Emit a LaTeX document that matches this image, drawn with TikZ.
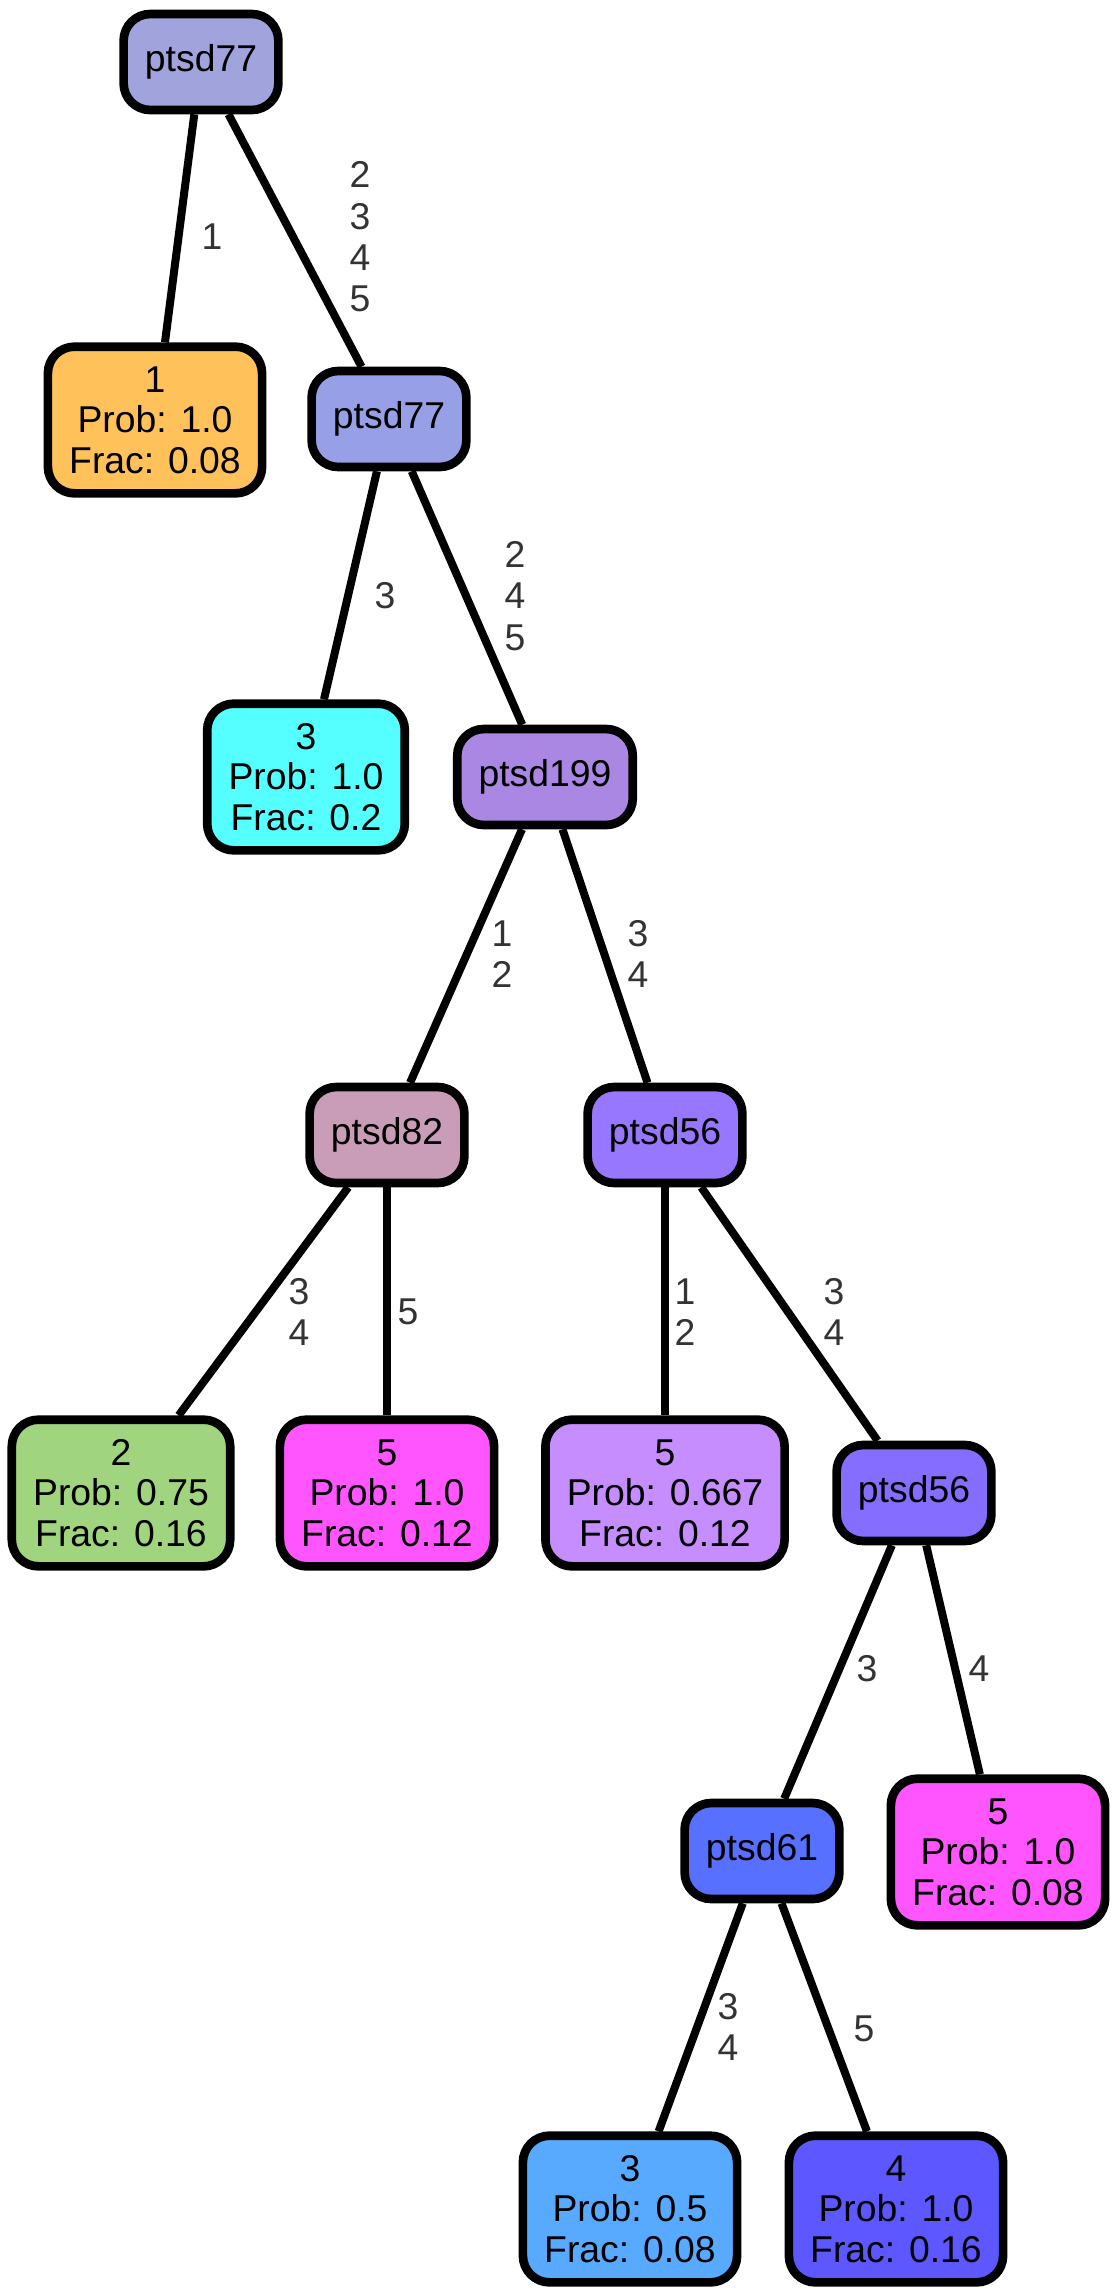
\documentclass[tikz,border=0pt]{standalone}
\usepackage{fontspec}
\setmainfont{Liberation Sans}
\usepackage{xcolor}

\definecolor{rootc}{HTML}{A0A3DC}
\definecolor{midc}{HTML}{979FE7}
\definecolor{orangec}{HTML}{FFC15A}
\definecolor{cyanc}{HTML}{55FFFF}
\definecolor{purplec}{HTML}{A987E2}
\definecolor{mauvec}{HTML}{C99CB7}
\definecolor{violetc}{HTML}{9877FF}
\definecolor{greenc}{HTML}{A1D47E}
\definecolor{magentac}{HTML}{FF55FF}
\definecolor{lilacc}{HTML}{C68DFF}
\definecolor{indigoc}{HTML}{856DFF}
\definecolor{bluec}{HTML}{5870FF}
\definecolor{skyc}{HTML}{57AAFF}
\definecolor{deepc}{HTML}{5C57FF}

\begin{document}
\begin{tikzpicture}[x=0.75pt,y=-0.75pt,
	decision/.style={draw, line width=6.5pt, rounded corners=20pt, inner xsep=16pt,
		minimum width=116pt, minimum height=72pt, align=center,
		font=\fontsize{28}{30.5}\selectfont},
	leafbox/.style={decision, minimum height=110pt},
	cut/.style={text=black!80, align=center, inner sep=0pt,
		font=\fontsize{28}{31}\selectfont},
	link/.style={line width=6pt}]
	
	\useasboundingbox (0,0) rectangle (1117,2296);
	
	\node[decision, fill=rootc](root) at (201,62){ptsd77};
	\node[leafbox, fill=orangec](c1) at (155,420){1\\Prob: 1.0\\Frac: 0.08};
	\node[decision, fill=midc](p77) at (389,419){ptsd77};
	
	\node[leafbox, fill=cyanc](c3) at (306,777){3\\Prob: 1.0\\Frac: 0.2};
	\node[decision, fill=purplec](p199) at (545,777){ptsd199};
	
	\node[decision, fill=mauvec](p82) at (387,1135){ptsd82};
	\node[decision, fill=violetc](p56) at (665,1135){ptsd56};
	
	\node[leafbox, fill=greenc](c2) at (121,1493){2\\Prob: 0.75\\Frac: 0.16};
	\node[leafbox, fill=magentac](c5a) at (387,1493){5\\Prob: 1.0\\Frac: 0.12};
	\node[leafbox, fill=lilacc](c5b) at (665,1493){5\\Prob: 0.667\\Frac: 0.12};
	\node[decision, fill=indigoc](p56b) at (914,1493){ptsd56};
	
	\node[decision, fill=bluec](p61) at (762,1851){ptsd61};
	\node[leafbox, fill=magentac](c5c) at (998,1852){5\\Prob: 1.0\\Frac: 0.08};
	
	\node[leafbox, fill=skyc](c3b) at (630,2209){3\\Prob: 0.5\\Frac: 0.08};
	\node[leafbox, fill=deepc](c4) at (896,2209){4\\Prob: 1.0\\Frac: 0.16};
	
	% edges
	\draw[link] (root) -- (c1);
	\draw[link] (root) -- (p77);
	\draw[link] (p77) -- (c3);
	\draw[link] (p77) -- (p199);
	\draw[link] (p199) -- (p82);
	\draw[link] (p199) -- (p56);
	\draw[link] (p82) -- (c2);
	\draw[link] (p82) -- (c5a);
	\draw[link] (p56) -- (c5b);
	\draw[link] (p56) -- (p56b);
	\draw[link] (p56b) -- (p61);
	\draw[link] (p56b) -- (c5c);
	\draw[link] (p61) -- (c3b);
	\draw[link] (p61) -- (c4);
	
	% edge labels
	\node[cut](l1) at (212,237){1};
	\node[cut](l2) at (360,237){2\\3\\4\\5};
	\node[cut](l3) at (385,596){3};
	\node[cut](l4) at (515,596){2\\4\\5};
	\node[cut](l5) at (502,954){1\\2};
	\node[cut](l6) at (638,954){3\\4};
	\node[cut](l7) at (299,1312){3\\4};
	\node[cut](l8) at (408,1312){5};
	\node[cut](l9) at (685,1312){1\\2};
	\node[cut](l10) at (834,1312){3\\4};
	\node[cut](l11) at (867,1669){3};
	\node[cut](l12) at (979,1669){4};
	\node[cut](l13) at (728,2027){3\\4};
	\node[cut](l14) at (864,2029){5};
\end{tikzpicture}
\end{document}
